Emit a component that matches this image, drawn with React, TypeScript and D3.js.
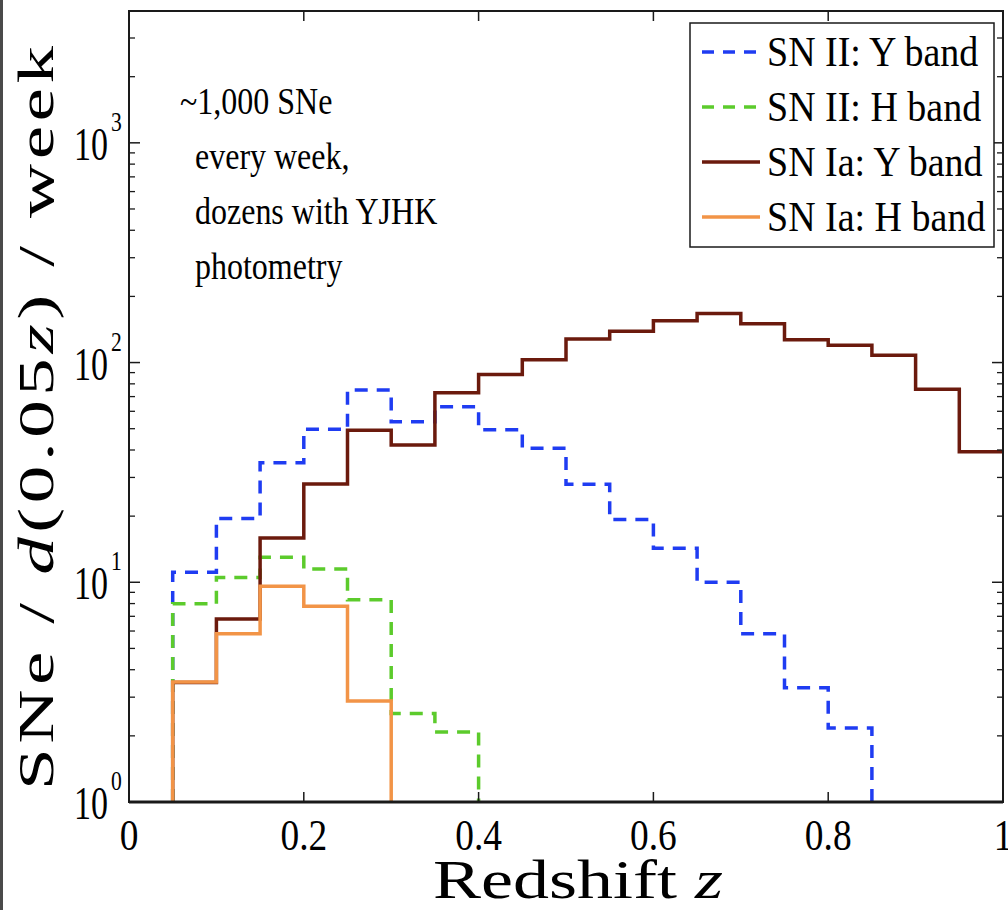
import React from "react";
import * as d3 from "d3";

// Redshift bin edges (width 0.05)
const binEdges = [
  0.05, 0.1, 0.15, 0.2, 0.25, 0.3, 0.35, 0.4, 0.45, 0.5,
  0.55, 0.6, 0.65, 0.7, 0.75, 0.8, 0.85, 0.9, 0.95, 1.0,
];

// SNe per d(0.05z) per week, one value per bin starting at 0.05
const snIIY = [11.1, 19.5, 35, 49.7, 75, 53.8, 62.9, 49.5, 40.7, 27.9, 19.3, 14.3, 10, 5.83, 3.31, 2.17];
const snIIH = [7.98, 10.5, 13, 11.5, 8.32, 2.53, 2.08];
const snIaY = [3.5, 6.8, 15.9, 28, 49.2, 42.2, 72.9, 88.3, 103, 128, 139, 155, 167, 150, 127, 120, 108, 75.6, 39.3];
const snIaH = [3.52, 5.83, 9.6, 7.78, 2.88];

const xTicks = [0, 0.2, 0.4, 0.6, 0.8, 1];
const xTickLabels = ["0", "0.2", "0.4", "0.6", "0.8", "1"];
const yDecades = [0, 1, 2, 3];

const legendLabels = ["SN II: Y band", "SN II: H band", "SN Ia: Y band", "SN Ia: H band"];

const annotationLines = ["~1,000 SNe", "every week,", "dozens with YJHK", "photometry"];

const W = 1008;
const H = 910;
const left = 129;
const right = 1003;
const top = 11;
const bottom = 802;

const x = d3.scaleLinear().domain([0, 1]).range([left, right]);
const y = d3.scaleLog().domain([1, Math.pow(10, 3.6)]).range([bottom, top]);

const FONT = "'Liberation Serif', 'Times New Roman', serif";
const AXIS = "#1a1a1a";

type Series = {
  values: number[];
  color: string;
  dash?: string;
  dropAtEnd: boolean;
};

const series: Series[] = [
  { values: snIIY, color: "#1f3cf2", dash: "13,9", dropAtEnd: true },
  { values: snIIH, color: "#5ccb2c", dash: "13,9", dropAtEnd: true },
  { values: snIaY, color: "#6b1a0d", dropAtEnd: false },
  { values: snIaH, color: "#f29447", dropAtEnd: true },
];

function stepPoints(values: number[], dropAtEnd: boolean): [number, number][] {
  const pts: [number, number][] = [[binEdges[0], 1]];
  values.forEach((v, i) => {
    pts.push([binEdges[i], v]);
    pts.push([binEdges[i + 1], v]);
  });
  if (dropAtEnd) pts.push([binEdges[values.length], 1]);
  return pts;
}

const line = d3
  .line<[number, number]>()
  .x((d) => x(d[0]))
  .y((d) => y(d[1]));

export default function App() {
  const minorTicks: number[] = [];
  yDecades.forEach((dec) => {
    for (let k = 2; k <= 9; k++) {
      const v = k * Math.pow(10, dec);
      if (v <= Math.pow(10, 3.6)) minorTicks.push(v);
    }
  });

  const legendX = 690;
  const legendY = 23;
  const legendW = 304;
  const legendH = 224;
  const rowYs = [52, 107, 162, 217];

  return (
    <div style={{ position: "absolute", left: 0, top: 0 }}>
      <svg width={W} height={H} style={{ display: "block", background: "#fff" }}>
        <rect x={0} y={0} width={W} height={H} fill="#fff" />
        <rect x={0} y={0} width={3} height={H} fill="#4a4a4a" />

        <defs>
          <clipPath id="plot-clip">
            <rect x={left} y={top} width={right - left} height={bottom - top} />
          </clipPath>
        </defs>

        {/* histogram step lines */}
        <g clipPath="url(#plot-clip)">
          {series.map((s, i) => (
            <path
              key={i}
              d={line(stepPoints(s.values, s.dropAtEnd)) || ""}
              fill="none"
              stroke={s.color}
              strokeWidth={3.5}
              strokeDasharray={s.dash}
              strokeLinejoin="miter"
            />
          ))}
        </g>

        {/* axes frame */}
        <rect
          x={left}
          y={top}
          width={right - left}
          height={bottom - top}
          fill="none"
          stroke={AXIS}
          strokeWidth={2}
        />
        <line x1={left} x2={right} y1={bottom} y2={bottom} stroke={AXIS} strokeWidth={3} />

        {/* x ticks */}
        {xTicks.map((t, i) => (
          <g key={`xt${i}`}>
            <line x1={x(t)} x2={x(t)} y1={bottom} y2={bottom - 10} stroke={AXIS} strokeWidth={1.5} />
            <line x1={x(t)} x2={x(t)} y1={top} y2={top + 10} stroke={AXIS} strokeWidth={1.5} />
            <g transform={`translate(${x(t)},${850}) scale(0.85,1)`}>
              <text textAnchor="middle" fontFamily={FONT} fontSize={44} fill="#000">
                {xTickLabels[i]}
              </text>
            </g>
          </g>
        ))}

        {/* y ticks */}
        {minorTicks.map((v, i) => (
          <g key={`ym${i}`}>
            <line x1={left} x2={left + 6} y1={y(v)} y2={y(v)} stroke={AXIS} strokeWidth={1.3} />
            <line x1={right} x2={right - 6} y1={y(v)} y2={y(v)} stroke={AXIS} strokeWidth={1.3} />
          </g>
        ))}
        {yDecades.map((dec) => {
          const v = Math.pow(10, dec);
          const yy = y(v);
          return (
            <g key={`yM${dec}`}>
              <line x1={left} x2={left + 11} y1={yy} y2={yy} stroke={AXIS} strokeWidth={1.5} />
              <line x1={right} x2={right - 11} y1={yy} y2={yy} stroke={AXIS} strokeWidth={1.5} />
              <g transform={`translate(108,${yy + 17}) scale(0.74,1)`}>
                <text textAnchor="end" fontFamily={FONT} fontSize={46} fill="#000">
                  10
                </text>
              </g>
              <g transform={`translate(111,${yy - 12}) scale(0.8,1)`}>
                <text fontFamily={FONT} fontSize={27} fill="#000">
                  {dec}
                </text>
              </g>
            </g>
          );
        })}

        {/* axis titles */}
        <text
          x={(left + right) / 2 + 12}
          y={898}
          textAnchor="middle"
          fontFamily={FONT}
          fontSize={54}
          fill="#000"
          textLength={290}
          lengthAdjust="spacingAndGlyphs"
        >
          Redshift <tspan fontStyle="italic">z</tspan>
        </text>

        <g transform={`translate(53,${418}) rotate(-90) scale(1.5,1)`}>
          <text
            x={0}
            y={0}
            textAnchor="middle"
            fontFamily={FONT}
            fontSize={50}
            fill="#000"
            textLength={496}
            lengthAdjust="spacing"
          >
            SNe / <tspan fontStyle="italic">d</tspan>(0.05<tspan fontStyle="italic">z</tspan>) / week
          </text>
        </g>

        {/* annotation */}
        {annotationLines.map((t, i) => (
          <g key={`an${i}`} transform={`translate(${i === 0 ? 180 : 195},${114 + i * 55}) scale(1,1.2)`}>
            <text x={0} y={0} fontFamily={FONT} fontSize={32} fill="#000">
              {t}
            </text>
          </g>
        ))}

        {/* legend */}
        <rect
          x={legendX}
          y={legendY}
          width={legendW}
          height={legendH}
          fill="#fff"
          stroke={AXIS}
          strokeWidth={1.5}
        />
        {series.map((s, i) => (
          <g key={`lg${i}`}>
            <line
              x1={702}
              x2={760}
              y1={rowYs[i]}
              y2={rowYs[i]}
              stroke={s.color}
              strokeWidth={3.5}
              strokeDasharray={s.dash ? "12,9" : undefined}
            />
            <g transform={`translate(767,${rowYs[i] + 14}) scale(1,1.12)`}>
              <text x={0} y={0} fontFamily={FONT} fontSize={38} fill="#000">
                {legendLabels[i]}
              </text>
            </g>
          </g>
        ))}
      </svg>
    </div>
  );
}
